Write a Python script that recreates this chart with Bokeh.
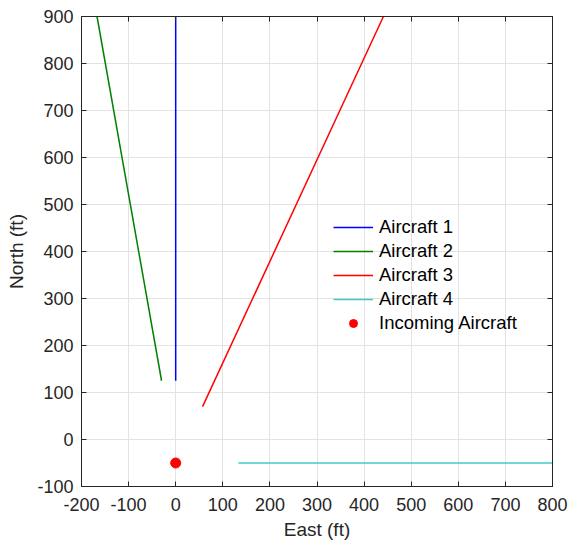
from bokeh.plotting import figure
from bokeh.models import Range1d, LinearAxis, FixedTicker, Legend, LegendItem
from bokeh.embed import file_html
from bokeh.resources import INLINE

# Track segments (feet)
ac1_east = [0, 0]
ac1_north = [125, 900]
ac2_east = [-30, -167]
ac2_north = [125, 900]
ac3_east = [57, 441]
ac3_north = [70, 900]
ac4_east = [133, 800]
ac4_north = [-50, -50]
incoming_east = [0]
incoming_north = [-50]

x_ticks = [-200, -100, 0, 100, 200, 300, 400, 500, 600, 700, 800]
x_labels = ["-200", "-100", "0", "100", "200", "300", "400", "500", "600", "700", "800"]
y_ticks = [-100, 0, 100, 200, 300, 400, 500, 600, 700, 800, 900]
y_labels = ["-100", "0", "100", "200", "300", "400", "500", "600", "700", "800", "900"]

FONT = "Liberation Sans"
INK = "#262626"
TICK_SIZE = "18px"
LABEL_SIZE = "19px"
LEGEND_SIZE = "18.5px"

p = figure(width=568, height=542, output_backend="svg", toolbar_location=None,
           x_range=Range1d(-200, 800), y_range=Range1d(-100, 900),
           min_border_left=81, min_border_right=16, min_border_top=16,
           min_border_bottom=56)
p.background_fill_color = "white"
p.border_fill_color = "white"
p.outline_line_color = INK
p.outline_line_width = 1

p.xgrid.grid_line_color = "#e3e3e3"
p.ygrid.grid_line_color = "#e3e3e3"

p.xaxis.ticker = FixedTicker(ticks=x_ticks)
p.yaxis.ticker = FixedTicker(ticks=y_ticks)
p.xgrid.ticker = FixedTicker(ticks=x_ticks)
p.ygrid.ticker = FixedTicker(ticks=y_ticks)
p.xaxis.major_label_overrides = dict(zip(x_ticks, x_labels))
p.yaxis.major_label_overrides = dict(zip(y_ticks, y_labels))

for ax in (p.xaxis[0], p.yaxis[0]):
    ax.axis_line_color = INK
    ax.major_tick_line_color = INK
    ax.major_tick_in = 5
    ax.major_tick_out = 0
    ax.minor_tick_line_color = None
    ax.major_label_text_font = FONT
    ax.major_label_text_font_size = TICK_SIZE
    ax.major_label_text_color = INK
    ax.axis_label_text_font = FONT
    ax.axis_label_text_font_size = LABEL_SIZE
    ax.axis_label_text_font_style = "normal"
    ax.axis_label_text_color = INK

p.xaxis.axis_label = "East (ft)"
p.yaxis.axis_label = "North (ft)"
p.xaxis.major_label_standoff = 11
p.yaxis.major_label_standoff = 8
p.xaxis.axis_label_standoff = 5
p.yaxis.axis_label_standoff = 7

# Box axes on top and right: tick marks only, no labels
top = LinearAxis(ticker=FixedTicker(ticks=x_ticks))
right = LinearAxis(ticker=FixedTicker(ticks=y_ticks))
for ax in (top, right):
    ax.axis_line_color = INK
    ax.major_tick_line_color = INK
    ax.major_tick_in = 5
    ax.major_tick_out = 0
    ax.minor_tick_line_color = None
    ax.major_label_text_color = None
    ax.major_label_text_font_size = "1px"
    ax.major_label_standoff = 0
p.add_layout(top, "above")
p.add_layout(right, "right")

r1 = p.line(ac1_east, ac1_north, line_color="#0000ff", line_width=1.5)
r2 = p.line(ac2_east, ac2_north, line_color="#008000", line_width=1.5)
r3 = p.line(ac3_east, ac3_north, line_color="#ff0000", line_width=1.5)
r4 = p.line(ac4_east, ac4_north, line_color="#40c8c8", line_width=1.5)
r5 = p.scatter(incoming_east, incoming_north, size=10, marker="circle",
               fill_color="#ff0000", line_color="#ff0000")

legend = Legend(items=[
    LegendItem(label="Aircraft 1", renderers=[r1]),
    LegendItem(label="Aircraft 2", renderers=[r2]),
    LegendItem(label="Aircraft 3", renderers=[r3]),
    LegendItem(label="Aircraft 4", renderers=[r4]),
    LegendItem(label="Incoming Aircraft", renderers=[r5]),
], location=(252, 152))
legend.background_fill_alpha = 0
legend.border_line_alpha = 0
legend.padding = 0
legend.margin = 0
legend.spacing = 2
legend.glyph_width = 40
legend.glyph_height = 20
legend.label_height = 20
legend.label_standoff = 6
legend.label_text_font = FONT
legend.label_text_font_size = LEGEND_SIZE
legend.label_text_color = "black"
p.add_layout(legend, "center")

open("out.html", "w").write(file_html(p, INLINE))
